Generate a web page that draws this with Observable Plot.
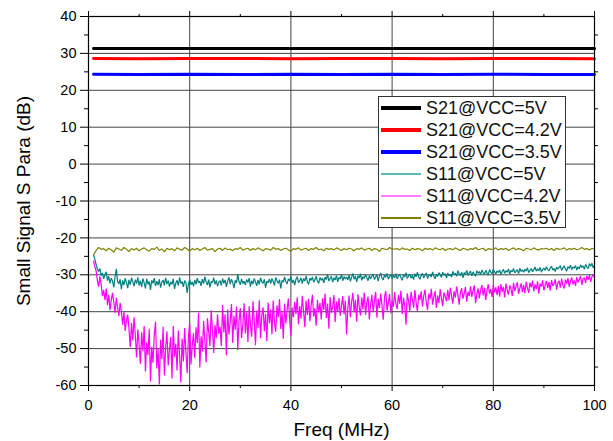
<!DOCTYPE html>
<html><head><meta charset="utf-8">
<script src="https://cdn.jsdelivr.net/npm/d3@7"></script>
<script src="https://cdn.jsdelivr.net/npm/@observablehq/plot@0.6"></script>
<style>
body{margin:0;background:#fff;}
#wrap{position:relative;width:613px;height:441px;font-family:"Liberation Sans",Arial,sans-serif;}
#legend{position:absolute;left:378px;top:96px;width:186px;height:130px;border:1px solid #333;background:#fff;}
.row{position:absolute;left:0;width:186px;height:22px;}
.sw{position:absolute;left:2px;width:40px;top:50%;}
.lab{position:absolute;left:47px;top:0;font-size:18px;color:#111;white-space:nowrap;line-height:22px;}
g[aria-label="x-axis label"] text, g[aria-label="y-axis label"] text{font-size:19px;}
</style></head><body><div id="wrap"></div>
<script>
// S21 traces (flat gain)
const freq21 = [1, 10, 20, 30, 40, 50, 60, 70, 80, 90, 100];
const s21_5V  = [31.35, 31.3, 31.35, 31.3, 31.3, 31.35, 31.3, 31.3, 31.35, 31.3, 31.3];
const s21_42V = [28.6, 28.55, 28.6, 28.6, 28.55, 28.6, 28.6, 28.55, 28.6, 28.6, 28.55];
const s21_35V = [24.35, 24.3, 24.35, 24.3, 24.35, 24.3, 24.35, 24.3, 24.35, 24.3, 24.3];

// S11 sweep grids (MHz)
const freqHalf = d3.range(1, 100.001, 0.5);     // 0.5 MHz steps
const freqQuarter = d3.range(1, 100.001, 0.25); // 0.25 MHz steps

const s11_35V = [
-24.6,-23.4,-22.6,-23.1,-22.9,-23.5,-22.8,-23.2,-23.9,-22.7,-23.0,-23.4,-22.6,-23.1,-23.7,-22.9,-23.3,-22.8,-23.5,-23.0,
-22.7,-23.2,-23.6,-22.9,-23.1,-22.5,-23.4,-23.0,-23.8,-22.8,-23.2,-22.9,-23.5,-22.7,-23.1,-23.3,-22.6,-23.0,-23.6,-22.9,
-23.2,-22.8,-23.4,-23.0,-22.6,-23.3,-23.1,-22.9,-23.7,-23.0,-22.8,-23.4,-22.7,-23.2,-23.0,-23.5,-22.9,-23.1,-22.6,-23.3,
-23.0,-22.8,-23.4,-22.9,-23.2,-22.7,-23.1,-23.5,-22.9,-23.0,-23.3,-22.6,-23.1,-22.9,-23.4,-23.0,-22.8,-23.2,-23.6,-22.9,
-23.1,-22.7,-23.3,-23.0,-22.8,-23.4,-22.9,-23.1,-22.6,-23.2,-23.0,-23.5,-22.8,-23.1,-22.9,-23.3,-22.7,-23.0,-23.4,-22.9,
-23.2,-22.8,-23.0,-23.5,-22.9,-23.1,-22.7,-23.3,-23.0,-22.8,-23.4,-22.9,-23.1,-23.7,-22.8,-23.0,-23.2,-22.6,-23.1,-23.0,
-22.9,-23.3,-22.7,-23.1,-23.0,-23.4,-22.8,-23.2,-22.9,-23.0,-23.5,-22.8,-23.1,-22.9,-23.3,-22.7,-23.0,-23.2,-22.8,-23.4,
-23.0,-22.9,-23.2,-22.7,-23.1,-23.4,-22.8,-23.0,-23.3,-22.9,-23.1,-22.6,-23.2,-23.0,-22.8,-23.5,-22.9,-23.1,-23.0,-22.7,
-23.3,-22.9,-23.1,-22.8,-23.4,-23.0,-22.7,-23.2,-22.9,-23.1,-23.5,-22.8,-23.0,-23.2,-22.7,-23.1,-23.3,-22.9,-23.0,-22.8,
-23.2,-22.9,-23.4,-22.8,-23.1,-23.0,-22.7,-23.3,-22.9,-23.1,-22.8,-23.2,-23.0,-22.6,-23.1,-22.9,-23.3,-22.8,-23.0
];

const s11_5V = [
-24.6,-25.8,-27.2,-28.4,-29.1,-28.3,-30.2,-29.5,-31.1,-30.0,-29.2,-31.6,-30.4,-32.3,-30.9,-31.7,-33.4,-30.6,-28.4,-31.8,
-32.5,-31.2,-33.9,-31.5,-32.8,-30.9,-32.1,-33.6,-31.4,-32.7,-30.8,-31.9,-33.1,-31.3,-32.4,-30.7,-32.9,-31.6,-33.3,-31.0,
-32.2,-33.7,-31.1,-32.6,-31.8,-34.1,-31.5,-32.3,-30.9,-33.0,-31.7,-32.8,-31.2,-33.5,-32.0,-31.4,-32.9,-30.8,-32.5,-31.6,
-33.2,-31.9,-32.6,-31.1,-33.8,-32.3,-31.5,-32.9,-30.7,-32.4,-31.8,-33.3,-31.6,-32.1,-34.9,-32.5,-31.3,-32.7,-31.9,-33.1,
-31.4,-32.6,-30.9,-32.2,-31.7,-33.0,-31.2,-32.4,-30.5,-31.9,-32.8,-31.3,-33.4,-31.8,-32.1,-30.8,-32.6,-31.5,-33.1,-32.0,
-31.6,-32.9,-31.0,-32.3,-31.4,-33.3,-31.8,-30.7,-32.5,-31.2,-32.0,-33.6,-31.5,-32.2,-29.8,-31.9,-32.7,-31.1,-32.4,-31.7,
-32.8,-31.3,-32.1,-30.9,-33.2,-31.6,-32.5,-31.0,-32.0,-33.0,-31.4,-32.6,-30.8,-31.9,-32.3,-31.2,-33.5,-31.7,-32.2,-31.1,
-32.4,-31.0,-31.8,-32.9,-30.7,-31.6,-32.3,-31.3,-33.7,-31.5,-32.0,-30.6,-31.9,-32.5,-31.1,-31.7,-30.4,-32.2,-31.4,-32.8,
-31.2,-30.5,-32.1,-31.6,-30.8,-32.4,-31.0,-31.7,-30.3,-31.9,-32.6,-30.9,-31.5,-30.6,-32.0,-31.3,-30.4,-31.8,-32.3,-30.7,
-31.5,-30.9,-32.2,-30.6,-31.3,-29.9,-31.7,-31.0,-30.4,-32.0,-30.8,-31.4,-30.2,-31.9,-30.7,-31.2,-29.8,-31.6,-30.5,-31.1,
-30.6,-31.4,-30.1,-31.8,-30.7,-29.6,-31.2,-30.4,-31.9,-30.3,-30.9,-29.7,-31.5,-30.5,-31.0,-29.9,-30.8,-31.6,-30.2,-31.1,
-30.4,-29.8,-31.3,-30.6,-30.0,-31.7,-30.3,-29.5,-30.9,-31.4,-30.1,-30.7,-29.6,-31.2,-30.5,-29.9,-31.0,-30.2,-30.8,-29.7,
-31.1,-30.3,-29.9,-30.8,-31.5,-30.0,-30.6,-29.4,-31.0,-30.4,-29.8,-30.9,-30.2,-31.3,-29.7,-30.5,-29.3,-30.7,-31.2,-30.1,
-29.6,-30.8,-30.2,-29.5,-31.0,-30.3,-29.9,-30.6,-29.2,-30.4,-31.1,-29.8,-30.5,-29.4,-30.0,-30.7,-29.3,-30.1,-29.7,-30.9,
-29.5,-30.3,-29.8,-30.6,-29.1,-30.0,-29.6,-30.4,-28.9,-29.7,-30.2,-29.3,-30.8,-29.4,-29.9,-28.8,-30.1,-29.5,-29.0,-30.3,
-29.2,-29.8,-30.4,-28.9,-29.6,-29.1,-30.0,-28.7,-29.4,-29.9,-28.8,-29.5,-30.1,-28.6,-29.3,-29.7,-28.5,-29.2,-29.8,-28.9,
-29.4,-28.7,-29.9,-29.1,-28.5,-29.6,-28.9,-29.3,-28.4,-29.8,-28.8,-29.2,-28.3,-29.5,-29.0,-28.6,-29.7,-28.2,-29.1,-28.7,
-29.3,-28.5,-29.0,-28.1,-29.4,-28.8,-28.3,-29.2,-28.6,-27.9,-29.0,-28.4,-28.9,-28.0,-29.3,-28.5,-28.2,-28.8,-27.8,-28.6,
-28.9,-28.2,-27.7,-28.7,-28.3,-29.1,-27.9,-28.5,-28.0,-27.5,-28.8,-28.1,-27.6,-28.4,-29.0,-27.8,-28.3,-27.4,-28.6,-27.9,
-28.2,-27.5,-28.7,-27.8,-28.4,-27.3,-28.0,-27.6,-28.5,-27.2,-27.9,-28.3,-27.0,-27.7,-26.9,-28.1,-27.4
];

const s11_42V = [
-26.3,-27.8,-28.9,-31.5,-33.2,-30.4,-32.6,-35.8,-34.1,-36.9,-33.7,-38.2,-35.4,-39.6,-36.8,-34.9,-37.5,-40.3,-36.2,-38.8,
-41.2,-37.6,-39.9,-43.5,-40.1,-45.2,-42.3,-40.8,-44.7,-49.6,-43.1,-47.8,-41.5,-46.3,-52.4,-44.8,-48.9,-54.1,-45.6,-50.7,
-43.9,-56.2,-48.3,-51.7,-44.6,-58.9,-49.5,-53.8,-46.2,-42.7,-55.4,-50.1,-59.7,-47.6,-52.9,-44.1,-57.3,-49.8,-45.3,-54.6,
-50.4,-46.9,-58.1,-43.8,-52.2,-48.7,-55.9,-45.1,-51.6,-59.2,-47.3,-53.5,-44.4,-50.9,-56.7,-46.5,-42.9,-54.3,-49.1,-45.8,
-52.6,-44.2,-48.5,-40.3,-55.1,-46.7,-50.8,-42.5,-47.9,-53.7,-41.8,-45.4,-49.3,-39.6,-44.9,-51.2,-43.6,-47.1,-40.7,-46.0,
-44.1,-49.3,-38.2,-45.6,-40.7,-51.8,-39.4,-46.2,-42.8,-37.9,-48.5,-41.1,-44.9,-38.6,-50.4,-42.3,-39.0,-47.1,-43.5,-37.7,
-45.9,-40.2,-48.3,-38.5,-43.6,-46.8,-37.2,-42.4,-49.1,-39.7,-44.5,-36.9,-47.2,-41.0,-38.8,-45.3,-40.6,-48.0,-37.5,-43.1,
-39.4,-46.1,-37.0,-42.9,-45.4,-38.3,-41.5,-36.6,-44.7,-40.0,-47.3,-37.8,-43.2,-39.5,-36.4,-42.1,-46.6,-38.9,-41.4,-37.3,
-40.6,-36.1,-43.4,-38.5,-41.9,-35.7,-39.8,-44.2,-37.0,-40.9,-36.5,-42.6,-38.2,-35.4,-41.3,-39.0,-43.8,-36.8,-40.2,-37.6,
-42.1,-36.4,-39.5,-35.1,-41.7,-37.8,-44.6,-36.0,-40.3,-38.7,-35.5,-42.8,-37.2,-39.9,-36.3,-41.1,-38.4,-35.8,-40.7,-37.0,
-46.2,-39.1,-35.6,-41.5,-37.3,-34.9,-40.2,-36.8,-42.7,-35.3,-38.6,-41.0,-36.1,-39.4,-34.8,-40.8,-37.5,-35.9,-42.1,-38.0,
-35.4,-40.1,-37.2,-34.6,-41.6,-36.5,-39.0,-35.1,-38.3,-42.2,-36.0,-34.4,-39.7,-37.6,-35.2,-40.5,-36.9,-38.7,-34.7,-37.9,
-39.3,-35.5,-37.8,-34.3,-40.6,-36.2,-38.4,-43.5,-35.0,-37.1,-39.8,-34.6,-36.7,-38.9,-34.1,-37.5,-40.0,-35.4,-36.8,-34.5,
-38.6,-35.8,-34.0,-37.4,-39.5,-35.1,-36.6,-33.8,-38.1,-36.0,-34.4,-39.0,-35.6,-37.7,-33.9,-36.3,-38.5,-34.8,-35.9,-37.2,
-34.1,-36.9,-33.5,-35.7,-37.8,-34.4,-36.2,-33.2,-35.3,-38.1,-34.7,-33.6,-36.5,-35.0,-33.3,-37.3,-34.6,-35.8,-33.1,-36.0,
-34.3,-32.9,-37.7,-35.2,-33.7,-36.4,-34.0,-32.8,-35.6,-33.5,-36.8,-34.2,-32.6,-35.1,-33.9,-36.0,-32.7,-34.8,-33.4,-35.5,
-33.0,-35.9,-32.5,-34.6,-33.3,-36.1,-32.4,-34.1,-35.4,-32.9,-33.8,-35.7,-32.2,-34.4,-33.1,-32.0,-35.2,-33.6,-32.3,-34.7,
-32.8,-35.0,-31.9,-33.7,-34.9,-32.1,-33.4,-31.6,-34.5,-32.6,-33.9,-31.8,-35.1,-32.4,-33.2,-31.5,-34.2,-32.7,-31.7,-33.6,
-32.0,-34.3,-31.4,-33.0,-32.5,-31.2,-34.0,-32.2,-31.6,-33.5,-31.0,-32.8,-33.7,-31.3,-32.4,-30.9,-33.2,-31.8,-30.7,-32.6,
-31.5,-33.0,-30.6,-32.1,-31.2,-30.4,-32.7,-31.0,-30.8,-32.2,-30.3,-31.4,-30.1,-31.9,-30.5,-29.9,-30.7
];

const seriesNames = ["S21@VCC=5V","S21@VCC=4.2V","S21@VCC=3.5V","S11@VCC=5V","S11@VCC=4.2V","S11@VCC=3.5V"];
const seriesColors = ["#000000","#ff0000","#0000ff","#008080","#ff00ff","#808000"];
const seriesWidths = [3, 3, 3, 1.2, 1.2, 1.2];
const swatchColors = ["#000000","#ff0000","#0000ff","#5cb8b8","#ff80ff","#808000"];
const swatchHeights = [4, 4, 4, 2, 2, 1.5];

const xMajor = [0, 20, 40, 60, 80, 100];
const xMinor = [10, 30, 50, 70, 90];
const yMajor = [-60, -50, -40, -30, -20, -10, 0, 10, 20, 30, 40];
const yMinor = [-55, -45, -35, -25, -15, -5, 5, 15, 25, 35];

const toRows = (fs, vs) => vs.map((v, i) => ({f: fs[i], v}));
const seriesData = [
  toRows(freq21, s21_5V), toRows(freq21, s21_42V), toRows(freq21, s21_35V),
  toRows(freqQuarter, s11_5V), toRows(freqQuarter, s11_42V), toRows(freqHalf, s11_35V)
];

const empty = () => "";
const plain = d => String(d);
const chart = Plot.plot({
  width: 613, height: 441,
  marginLeft: 88, marginRight: 19, marginTop: 16, marginBottom: 56,
  style: {fontFamily: "Liberation Sans, Arial, sans-serif", fontSize: "14.5px", color: "#000", background: "#fff"},
  x: {domain: [0, 100]},
  y: {domain: [-60, 40]},
  marks: [
    Plot.gridX([20, 40, 60, 80], {stroke: "#444", strokeOpacity: 1}),
    Plot.gridY(yMajor.slice(1, -1), {stroke: "#444", strokeOpacity: 1}),
    ...seriesData.map((d, i) => Plot.line(d, {x: "f", y: "v", stroke: seriesColors[i], strokeWidth: seriesWidths[i], strokeLinejoin: "miter"})),
    Plot.frame({stroke: "#000", strokeWidth: 1.2}),
    Plot.axisY({ticks: yMajor, tickSize: 8, tickPadding: 4, tickFormat: plain, label: "Small Signal S Para (dB)", labelAnchor: "center", labelOffset: 72, labelArrow: "none"}),
    Plot.axisY({ticks: yMinor, tickSize: 4, tickFormat: empty, label: null}),
    Plot.axisY({anchor: "right", ticks: yMinor, tickSize: 3, tickFormat: empty, label: null}),
    Plot.axisX({ticks: xMajor, tickSize: 6, tickPadding: 8, tickFormat: plain, label: "Freq (MHz)", labelAnchor: "center", labelOffset: 50, labelArrow: "none"}),
    Plot.axisX({ticks: xMinor, tickSize: 3, tickFormat: empty, label: null}),
    Plot.axisX({anchor: "top", ticks: xMajor, tickSize: 6, tickFormat: empty, label: null}),
    Plot.axisX({anchor: "top", ticks: xMinor, tickSize: 3, tickFormat: empty, label: null})
  ]
});
const wrap = document.getElementById("wrap");
wrap.appendChild(chart);

const legend = document.createElement("div");
legend.id = "legend";
seriesNames.forEach((name, i) => {
  const row = document.createElement("div");
  row.className = "row";
  row.style.top = (i * 22) + "px";
  const sw = document.createElement("div");
  sw.className = "sw";
  sw.style.height = swatchHeights[i] + "px";
  sw.style.background = swatchColors[i];
  sw.style.marginTop = (-swatchHeights[i] / 2) + "px";
  const lab = document.createElement("div");
  lab.className = "lab";
  lab.textContent = name;
  row.appendChild(sw); row.appendChild(lab);
  legend.appendChild(row);
});
wrap.appendChild(legend);
</script>
</body></html>
